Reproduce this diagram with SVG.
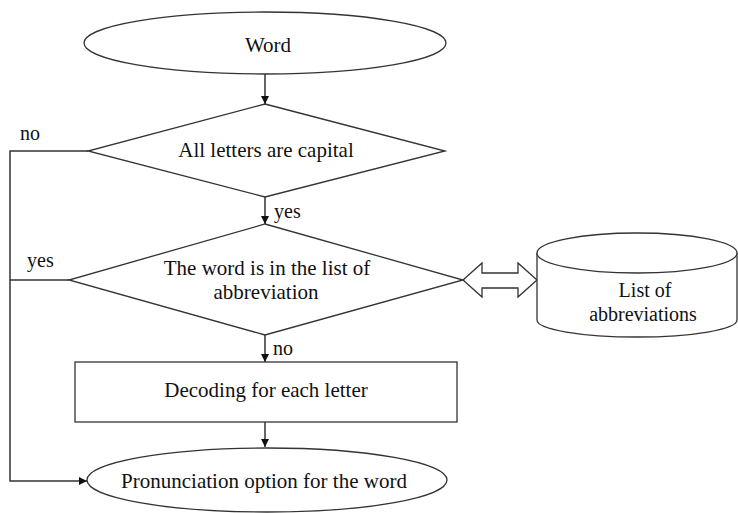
<svg xmlns="http://www.w3.org/2000/svg" width="738" height="513" viewBox="0 0 738 513" font-family="'Liberation Serif', 'DejaVu Serif', serif">
<defs>
<style>
.s{fill:#fff;stroke:#333;stroke-width:1.3}
.c{fill:none;stroke:#333;stroke-width:1.5}
.t{font-family:'Liberation Serif','DejaVu Serif',serif;font-size:21px;fill:#111}
.l{font-size:20px}
.m{text-anchor:middle}
</style>
<marker id="a" viewBox="0 0 10 10" refX="10" refY="5" markerWidth="8" markerHeight="9" markerUnits="userSpaceOnUse" orient="auto"><path d="M0,0 L10,5 L0,10 z" fill="#111"/></marker>
</defs>
<g id="connectors">
<line class="c" x1="265" y1="73" x2="265" y2="104" marker-end="url(#a)"/>
<line class="c" x1="265" y1="197" x2="265" y2="224" marker-end="url(#a)"/>
<line class="c" x1="265" y1="335" x2="265" y2="362" marker-end="url(#a)"/>
<line class="c" x1="265" y1="422" x2="265" y2="447" marker-end="url(#a)"/>
<polyline class="c" points="88,151 10,151 10,481 87,481" marker-end="url(#a)"/>
<line class="c" x1="69" y1="280" x2="10" y2="280"/>
<path class="s" d="M463,280 L482,263 L482,273 L518,273 L518,263 L537,280 L518,297 L518,288 L482,288 L482,297 Z"/>
<text class="t l" x="20" y="140">no</text>
<text class="t l" x="274" y="218">yes</text>
<text class="t l" x="27" y="267">yes</text>
<text class="t l" x="273" y="355">no</text>
</g>
<g id="word">
<ellipse class="s" cx="265" cy="43" rx="181" ry="31"/>
<text class="t m" x="268" y="52">Word</text>
</g>
<g id="capital">
<polygon class="s" points="265,104 445,151 265,197 88,151"/>
<text class="t m" x="266" y="157">All letters are capital</text>
</g>
<g id="inlist">
<polygon class="s" points="265,224 463,280 265,335 69,280"/>
<text class="t m" x="267" y="275">The word is in the list of</text>
<text class="t m" x="266" y="299">abbreviation</text>
</g>
<g id="decoding">
<rect class="s" x="75" y="362" width="382" height="60"/>
<text class="t m" x="266" y="397">Decoding for each letter</text>
</g>
<g id="pronunciation">
<ellipse class="s" cx="267" cy="480" rx="180" ry="32"/>
<text class="t m" x="264" y="488">Pronunciation option for the word</text>
</g>
<g id="abbrevlist">
<path class="s" d="M537,253 L537,320 A100,17 0 0 0 737,320 L737,253"/>
<ellipse class="s" cx="637" cy="253" rx="100" ry="20"/>
<text class="t m l" x="645" y="297">List of</text>
<text class="t m l" x="643" y="321">abbreviations</text>
</g>
</svg>
